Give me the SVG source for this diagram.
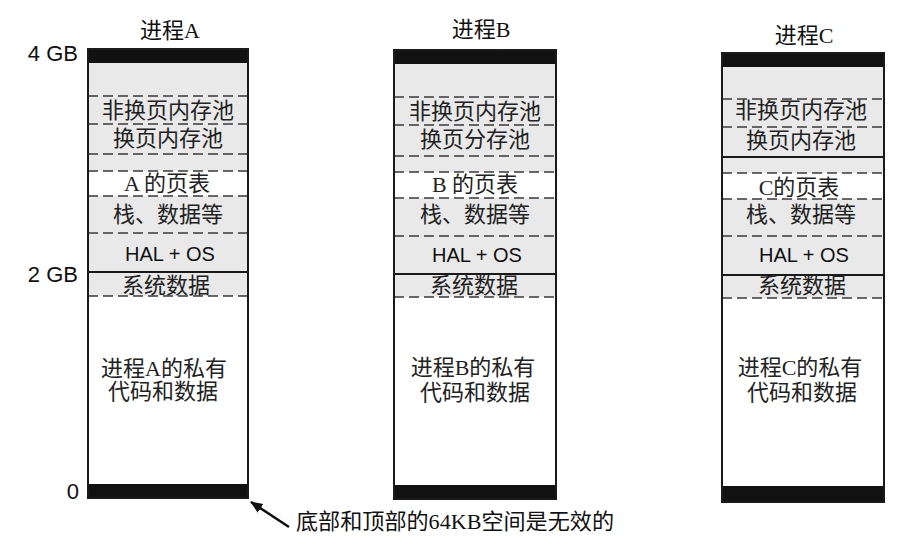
<svg xmlns="http://www.w3.org/2000/svg" width="903" height="545" viewBox="0 0 903 545">
<style>
.bg{fill:#ffffff}
.gray{fill:#e9e9e9}
.bar{fill:#111111}
.frame{fill:none;stroke:#1a1a1a;stroke-width:2}
.dash{stroke:#3a3a3a;stroke-width:1.5;stroke-dasharray:10 5;fill:none}
.solid{stroke:#1a1a1a;stroke-width:2;fill:none}
.cjk{font-family:"Liberation Serif","Noto Sans CJK SC",serif;font-size:22px;fill:#222;text-anchor:middle;dominant-baseline:central}
.title{font-family:"Liberation Serif","Noto Sans CJK SC",serif;font-size:22px;fill:#111;text-anchor:middle;dominant-baseline:central}
.sans{font-family:"Liberation Sans",Arial,sans-serif;font-size:20px;fill:#111;text-anchor:middle;dominant-baseline:central}
.axis{font-family:"Liberation Sans",Arial,sans-serif;font-size:22px;fill:#111;text-anchor:end;dominant-baseline:central}
.note{font-family:"Liberation Serif","Noto Sans CJK SC",serif;font-size:22px;fill:#111;dominant-baseline:central}
</style>
<defs>
<marker id="ah" viewBox="0 0 12 10" refX="11" refY="5" markerWidth="5" markerHeight="4.5" orient="auto" markerUnits="strokeWidth">
<path d="M0,0 L12,5 L0,10 z" fill="#111"/>
</marker>
</defs>
<rect class="bg" x="0" y="0" width="903" height="545"/>

<g id="axis-labels">
<text class="axis" x="78" y="53">4 GB</text>
<text class="axis" x="78" y="274">2 GB</text>
<text class="axis" x="79" y="491">0</text>
</g>

<g id="processA">
<text class="title" x="170" y="30">进程A</text>
<rect class="gray" x="88" y="63" width="160" height="108"/>
<rect class="gray" x="88" y="196" width="160" height="100"/>
<rect class="bar" x="88" y="49" width="160" height="14"/>
<rect class="bar" x="88" y="484" width="160" height="14"/>
<line class="dash" x1="88" y1="96" x2="248" y2="96"/>
<line class="dash" x1="88" y1="124" x2="248" y2="124"/>
<line class="dash" x1="88" y1="154" x2="248" y2="154"/>
<line class="dash" x1="88" y1="171" x2="248" y2="171"/>
<line class="dash" x1="88" y1="196" x2="248" y2="196"/>
<line class="dash" x1="88" y1="233" x2="248" y2="233"/>
<line class="solid" x1="88" y1="272" x2="248" y2="272"/>
<line class="dash" x1="88" y1="296" x2="248" y2="296"/>
<rect class="frame" x="88" y="49" width="160" height="449"/>
<text class="cjk" x="168" y="110">非换页内存池</text>
<text class="cjk" x="168" y="138">换页内存池</text>
<text class="cjk" x="167" y="183">A 的页表</text>
<text class="cjk" x="168" y="214">栈、数据等</text>
<text class="sans" x="170" y="254">HAL + OS</text>
<text class="cjk" x="166" y="285">系统数据</text>
<text class="cjk" x="164" y="368">进程A的私有</text>
<text class="cjk" x="163" y="391">代码和数据</text>
</g>

<g id="processB">
<text class="title" x="481" y="29">进程B</text>
<rect class="gray" x="394" y="64" width="162" height="108"/>
<rect class="gray" x="394" y="198" width="162" height="99"/>
<rect class="bar" x="394" y="50" width="162" height="14"/>
<rect class="bar" x="394" y="485" width="162" height="14"/>
<line class="dash" x1="394" y1="97" x2="556" y2="97"/>
<line class="dash" x1="394" y1="125" x2="556" y2="125"/>
<line class="dash" x1="394" y1="156" x2="556" y2="156"/>
<line class="dash" x1="394" y1="172" x2="556" y2="172"/>
<line class="dash" x1="394" y1="198" x2="556" y2="198"/>
<line class="dash" x1="394" y1="236" x2="556" y2="236"/>
<line class="solid" x1="394" y1="274" x2="556" y2="274"/>
<line class="dash" x1="394" y1="297" x2="556" y2="297"/>
<rect class="frame" x="394" y="50" width="162" height="449"/>
<text class="cjk" x="475" y="111">非换页内存池</text>
<text class="cjk" x="475" y="139">换页分存池</text>
<text class="cjk" x="475" y="184">B 的页表</text>
<text class="cjk" x="475" y="214">栈、数据等</text>
<text class="sans" x="477" y="255">HAL + OS</text>
<text class="cjk" x="474" y="285">系统数据</text>
<text class="cjk" x="473" y="367">进程B的私有</text>
<text class="cjk" x="475" y="392">代码和数据</text>
</g>

<g id="processC">
<text class="title" x="804" y="35">进程C</text>
<rect class="gray" x="722" y="67" width="162" height="106"/>
<rect class="gray" x="722" y="199" width="162" height="99"/>
<rect class="bar" x="722" y="53" width="162" height="14"/>
<rect class="bar" x="722" y="486" width="162" height="16"/>
<line class="dash" x1="722" y1="99" x2="884" y2="99"/>
<line class="dash" x1="722" y1="127" x2="884" y2="127"/>
<line class="solid" x1="722" y1="157" x2="884" y2="157"/>
<line class="dash" x1="722" y1="173" x2="884" y2="173"/>
<line class="dash" x1="722" y1="199" x2="884" y2="199"/>
<line class="dash" x1="722" y1="236" x2="884" y2="236"/>
<line class="solid" x1="722" y1="275" x2="884" y2="275"/>
<line class="dash" x1="722" y1="298" x2="884" y2="298"/>
<rect class="frame" x="722" y="53" width="162" height="449"/>
<text class="cjk" x="801" y="110">非换页内存池</text>
<text class="cjk" x="801" y="140">换页内存池</text>
<text class="cjk" x="799" y="187">C的页表</text>
<text class="cjk" x="801" y="214">栈、数据等</text>
<text class="sans" x="804" y="255">HAL + OS</text>
<text class="cjk" x="802" y="285">系统数据</text>
<text class="cjk" x="800" y="367">进程C的私有</text>
<text class="cjk" x="802" y="392">代码和数据</text>
</g>

<g id="connectors">
<line x1="289" y1="527" x2="251" y2="502" stroke="#111" stroke-width="2.5" marker-end="url(#ah)"/>
</g>

<g id="note">
<text class="note" x="296" y="521" textLength="318" lengthAdjust="spacingAndGlyphs">底部和顶部的64KB空间是无效的</text>
</g>
</svg>
